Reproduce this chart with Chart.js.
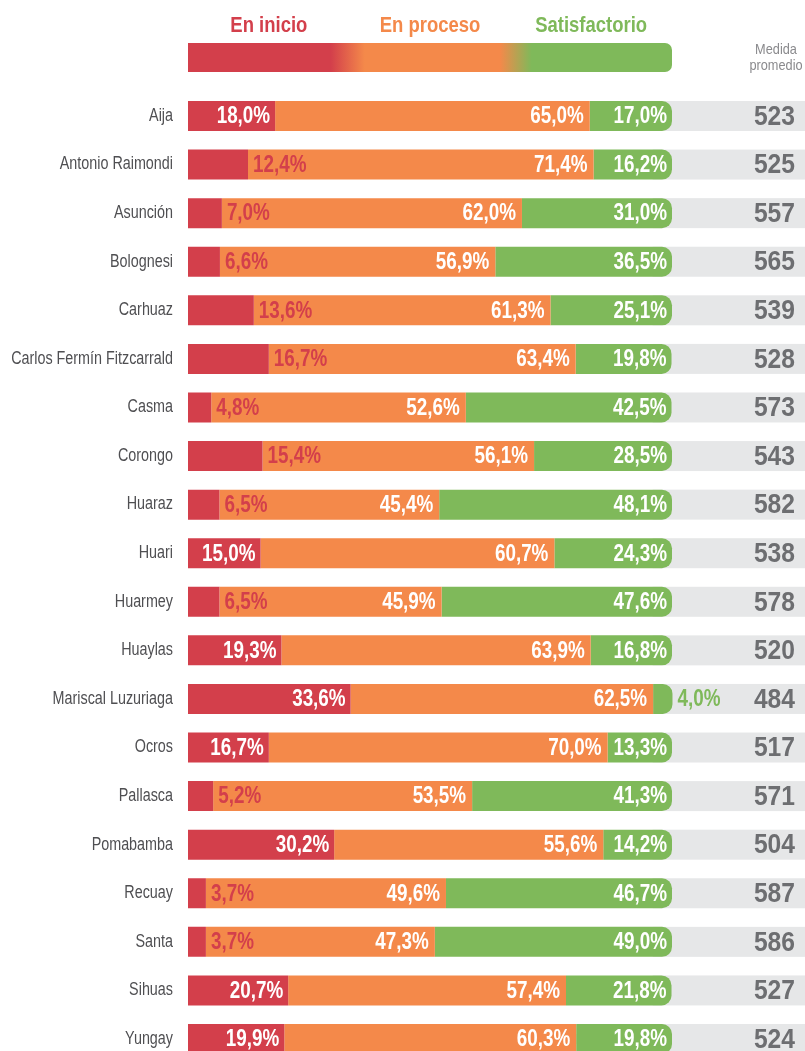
<!DOCTYPE html>
<html>
<head>
<meta charset="utf-8">
<script src="https://cdn.jsdelivr.net/npm/chart.js@4.4.1/dist/chart.umd.min.js"></script>
<style>
  html, body { margin: 0; padding: 0; background: #ffffff; overflow: hidden; }
  #wrap { position: relative; width: 805px; height: 1100px; }
</style>
</head>
<body>
<div id="wrap"><canvas id="c"></canvas></div>
<script>
// ---------- DATA ----------
const provinces = ["Aija","Antonio Raimondi","Asunción","Bolognesi","Carhuaz","Carlos Fermín Fitzcarrald","Casma","Corongo","Huaraz","Huari","Huarmey","Huaylas","Mariscal Luzuriaga","Ocros","Pallasca","Pomabamba","Recuay","Santa","Sihuas","Yungay"];
const enInicio      = [18.0,12.4,7.0,6.6,13.6,16.7,4.8,15.4,6.5,15.0,6.5,19.3,33.6,16.7,5.2,30.2,3.7,3.7,20.7,19.9];
const enProceso     = [65.0,71.4,62.0,56.9,61.3,63.4,52.6,56.1,45.4,60.7,45.9,63.9,62.5,70.0,53.5,55.6,49.6,47.3,57.4,60.3];
const satisfactorio = [17.0,16.2,31.0,36.5,25.1,19.8,42.5,28.5,48.1,24.3,47.6,16.8,4.0,13.3,41.3,14.2,46.7,49.0,21.8,19.8];
const medidaPromedio = [523,525,557,565,539,528,573,543,582,538,578,520,484,517,571,504,587,586,527,524];
// whether the "En inicio" label is written inside its (red) segment in the reference
const inicioLabelInside = [true,false,false,false,false,false,false,false,false,true,false,true,true,true,false,true,false,false,true,true];
const seriesNames = ["En inicio","En proceso","Satisfactorio"];
const scoreTitle = ["Medida","promedio"];

// ---------- STYLE ----------
const RED = "#d33f4b", ORANGE = "#f4894a", GREEN = "#7fb95a", GRAY_BAND = "#e6e7e8", SCORE = "#6d6e71";
const SANS = "'Liberation Sans', Arial, sans-serif";
const fmt = v => v.toFixed(1).replace(".", ",") + "%";

// draws condensed text (horizontal squeeze) at x,y
function ctext(ctx, s, x, y, align, sx) {
  ctx.save();
  ctx.translate(x, y);
  ctx.scale(sx, 1);
  ctx.textAlign = align;
  ctx.fillText(s, 0, 0);
  ctx.restore();
}

const overlay = {
  id: "overlay",
  beforeDatasetsDraw(chart) {
    const ctx = chart.ctx, x = chart.scales.x, a = chart.chartArea;
    const meta = chart.getDatasetMeta(0);
    ctx.save();
    ctx.fillStyle = GRAY_BAND;
    const left = x.getPixelForValue(96);
    meta.data.forEach(bar => {
      const h = bar.height;
      ctx.fillRect(left, bar.y - h / 2, a.right - left + 2, h);
    });
    ctx.restore();
  },
  afterDatasetsDraw(chart) {
    const ctx = chart.ctx, x = chart.scales.x, y = chart.scales.y, a = chart.chartArea;
    const m0 = chart.getDatasetMeta(0), m1 = chart.getDatasetMeta(1), m2 = chart.getDatasetMeta(2);
    const SQ = 0.82;
    ctx.save();
    ctx.textBaseline = "middle";

    // category labels (condensed) from the y scale's ticks
    ctx.font = "17.5px " + SANS;
    ctx.fillStyle = "#4f4f52";
    y.ticks.forEach((t, i) => {
      ctext(ctx, y.getLabelForValue(t.value), y.right - 15, y.getPixelForTick(i), "right", 0.82);
    });

    ctx.font = "bold 23px " + SANS;
    provinces.forEach((p, i) => {
      const b0 = m0.data[i], b1 = m1.data[i], b2 = m2.data[i];
      const cy = b0.y + 1;
      // En inicio
      if (inicioLabelInside[i]) {
        ctx.fillStyle = "#ffffff";
        ctext(ctx, fmt(enInicio[i]), b0.x - 5, cy, "right", SQ);
      } else {
        ctx.fillStyle = RED;
        ctext(ctx, fmt(enInicio[i]), b0.x + 5, cy, "left", SQ);
      }
      // En proceso
      ctx.fillStyle = "#ffffff";
      ctext(ctx, fmt(enProceso[i]), b1.x - 6, cy, "right", SQ);
      // Satisfactorio
      if (satisfactorio[i] >= 8) {
        ctx.fillStyle = "#ffffff";
        ctext(ctx, fmt(satisfactorio[i]), b2.x - 5, cy, "right", SQ);
      } else {
        ctx.fillStyle = GREEN;
        ctext(ctx, fmt(satisfactorio[i]), b2.x + 5, cy, "left", SQ);
      }
    });
    // scores
    ctx.font = "bold 28px " + SANS;
    ctx.fillStyle = SCORE;
    provinces.forEach((p, i) => {
      ctext(ctx, String(medidaPromedio[i]), a.right - 10, m0.data[i].y + 1, "right", 0.88);
    });

    // legend bar
    const lx0 = x.getPixelForValue(0), lx1 = x.getPixelForValue(100);
    const ly = 43, lh = 29, r = 7;
    const g = ctx.createLinearGradient(lx0, 0, lx1, 0);
    g.addColorStop(0, RED); g.addColorStop(0.295, RED);
    g.addColorStop(0.365, ORANGE); g.addColorStop(0.645, ORANGE);
    g.addColorStop(0.71, GREEN); g.addColorStop(1, GREEN);
    ctx.fillStyle = g;
    ctx.beginPath();
    ctx.moveTo(lx0, ly);
    ctx.lineTo(lx1 - r, ly);
    ctx.arcTo(lx1, ly, lx1, ly + r, r);
    ctx.lineTo(lx1, ly + lh - r);
    ctx.arcTo(lx1, ly + lh, lx1 - r, ly + lh, r);
    ctx.lineTo(lx0, ly + lh);
    ctx.closePath();
    ctx.fill();
    // legend labels
    ctx.font = "bold 22px " + SANS;
    const cols = [RED, ORANGE, GREEN];
    const centers = [16.7, 50, 83.3];
    seriesNames.forEach((s, k) => {
      ctx.fillStyle = cols[k];
      ctext(ctx, s, x.getPixelForValue(centers[k]), 26, "center", 0.84);
    });
    // score title
    ctx.font = "15px " + SANS;
    ctx.fillStyle = "#8a8a8d";
    ctext(ctx, scoreTitle[0], 776, 50, "center", 0.85);
    ctext(ctx, scoreTitle[1], 776, 66, "center", 0.85);
    ctx.restore();
  }
};

new Chart(document.getElementById("c"), {
  type: "bar",
  data: {
    labels: provinces,
    datasets: [
      { label: seriesNames[0], data: enInicio, backgroundColor: RED },
      { label: seriesNames[1], data: enProceso, backgroundColor: ORANGE },
      { label: seriesNames[2], data: satisfactorio, backgroundColor: GREEN,
        borderRadius: { topLeft: 0, bottomLeft: 0, topRight: 10, bottomRight: 10 }, borderSkipped: false }
    ]
  },
  options: {
    indexAxis: "y",
    responsive: true,
    maintainAspectRatio: false,
    animation: false,
    layout: { padding: { top: 91.7, bottom: 36.7, left: 0, right: 0 } },
    datasets: { bar: { categoryPercentage: 1, barPercentage: 0.6175, borderWidth: 0 } },
    plugins: { legend: { display: false }, tooltip: { enabled: false } },
    scales: {
      x: { stacked: true, display: false, min: 0, max: 127.48 },
      y: {
        stacked: true,
        grid: { display: false, drawTicks: false },
        border: { display: false },
        ticks: { display: false },
        afterFit(s) { s.width = 188; }
      }
    }
  },
  plugins: [overlay]
});
</script>
</body>
</html>
